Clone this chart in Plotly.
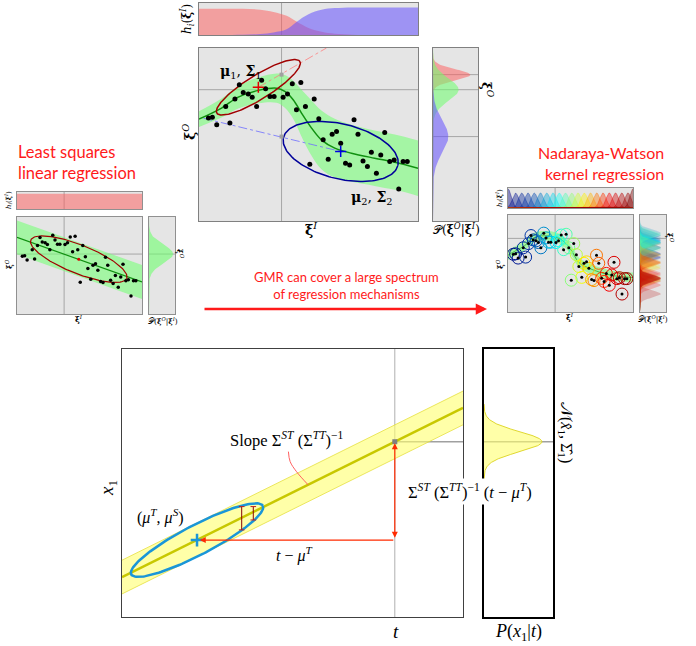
import numpy as np
import plotly.graph_objects as go
from plotly.colors import sample_colorscale

W, H = 696, 646

# ---------------- data ----------------
# shared dataset (same points in the three GMR panels)
pts_x = [4.3, 6.1, 8.1, 14.1, 12.2, 16.4, 18.4, 20.2, 22.5, 24.3, 26.3, 28.6, 30.4, 32.4, 34.3,
         38.4, 40.4, 42.6, 46.5, 52.6, 48.6, 44.5, 54.7, 56.7, 60.8, 62.8, 64.7, 70.8, 72.6, 59.0,
         50.6, 66.9, 68.8, 74.9, 76.9, 78.7, 81.0, 83.0, 84.8, 87.1, 89.1, 93.2, 95.1, 91.2]
pts_y = [59.5, 60.0, 55.6, 56.6, 66.2, 70.5, 78.8, 74.3, 73.4, 71.6, 66.2, 81.3, 76.4, 72.0, 72.0,
         71.6, 73.4, 79.3, 80.1, 70.5, 66.2, 64.3, 59.1, 46.9, 50.2, 51.7, 45.0, 58.5, 50.2, 35.7,
         32.8, 33.4, 32.4, 34.7, 31.5, 39.8, 27.6, 38.2, 51.2, 34.4, 35.3, 34.4, 34.4, 18.5]
x_query = 37.7

# GMR (two components)
mu1 = [27.1, 77.3]
mu2 = [64.7, 40.2]
sig1_axes = [[18.95, 14.95], [2.9, -5.9]]
sig2_axes = [[26.1, -8.1], [-2.95, -15.4]]
gmr_x = [0, 10.3, 17.9, 27.1, 35.4, 39.2, 43.0, 46.8, 51.4, 55.9, 62.0, 69.6, 80.2, 89.4, 100]
gmr_y = [58.9, 65.3, 71.6, 75.5, 76.8, 74.9, 70.1, 62.4, 53.7, 46.9, 42.1, 39.2, 36.3, 34.0, 30.5]
gmr_half = [4.5, 5.5, 6.5, 7.5, 8.5, 9.5, 11.0, 13.5, 16.0, 17.0, 17.0, 16.5, 16.0, 16.0, 16.0]
h_x = [0, 10, 20, 28, 34, 40, 44.5, 50, 56, 62, 70, 80, 100]
h1 = [0.82, 0.82, 0.82, 0.79, 0.72, 0.60, 0.42, 0.22, 0.10, 0.04, 0.01, 0.0, 0.0]
h2 = [0.0, 0.0, 0.01, 0.03, 0.08, 0.18, 0.41, 0.65, 0.79, 0.84, 0.86, 0.86, 0.86]
yq_out = 75.9
yq_1 = 84.6
yq_2 = 48.8
dens_params = [(84.5, 3.2, 0.83), (75.9, 6.5, 0.57), (48.8, 9.5, 0.34)]  # mean, sd, peak

# least squares
ls_x = [0, 100]
ls_y = [79.0, 33.0]
ls_half = 17.5
ls_mu = [49.4, 56.5]
ls_axes = [[38.4, -19.7], [-4.2, -13.7]]
ls_h = 0.9
ls_yq = 61.8
ls_dens = (61.8, 9.5, 0.93)

# Nadaraya-Watson
nw_x = [0, 1.3, 13.2, 21, 31.6, 42.1, 50, 56.6, 63.2, 73.7, 84.2, 97.4, 100]
nw_y = [58.5, 59.7, 68.3, 76.8, 78.5, 75.1, 64.8, 51.2, 46.1, 40.9, 37.5, 35.8, 35.6]
nw_half = 5.0
nw_centers = [0, 6, 11, 16, 21, 26, 31, 36, 41, 46, 51, 56, 61, 66, 71, 76, 81, 86, 91, 96, 100]
nw_heights = [0.95, 0.75, 0.75, 0.75, 0.75, 0.75, 0.75, 0.75, 0.75, 0.75, 0.75, 0.75, 0.75, 0.75,
              0.75, 0.75, 0.75, 0.75, 0.75, 0.75, 0.95]

# linear (bottom) example
bot_line_x = [0, 100]
bot_line_y = [14.9, 78.0]
bot_half = 6.3
bot_t = 80.0
bot_muT, bot_muS = 22.0, 28.7
bot_axes = [[19.3, 12.8], [2.0, -4.97]]
bot_cond = 65.4
bot_dens = (65.4, 3.8, 0.84)
err_x = [35.1, 38.5]
err_lo = [32.5, 36.2]
err_hi = [41.2, 41.2]
leader_x = [48.8, 49.3, 51.2, 54.6]
leader_y = [61.7, 58.0, 54.2, 49.3]

# ---------------- helpers ----------------
def ellipse(c, ax, n=160):
    t = np.linspace(0, 2 * np.pi, n)
    a, b = ax
    return (c[0] + a[0] * np.cos(t) + b[0] * np.sin(t),
            c[1] + a[1] * np.cos(t) + b[1] * np.sin(t))


def gauss(grid, mu, sd, amp):
    return amp * np.exp(-0.5 * ((grid - mu) / sd) ** 2)


def rgba(c, a):
    c = c.replace('rgb(', '').replace(')', '')
    r, g, b = [float(v) for v in c.split(',')]
    return f'rgba({int(r)},{int(g)},{int(b)},{a})'


def jet(v):
    return sample_colorscale('Jet', [min(max(v, 0), 1)])[0]


GRAY_BG = '#e5e5e5'
GRID = '#a6a6a6'

# panels: x0,x1,y0,y1 (pixels), xrange, yrange, bg, linecolor, linewidth
panels = [
    (199, 418, 3, 35, [0, 100], [0, 1], GRAY_BG, '#808080', 1),      # 1 top h
    (199, 418, 48, 221, [0, 100], [0, 100], GRAY_BG, '#808080', 1),  # 2 top main
    (433, 478, 48, 221, [0, 1], [0, 100], GRAY_BG, '#808080', 1),    # 3 top dens
    (17, 142, 192, 209, [0, 100], [0, 1], GRAY_BG, '#909090', 1),    # 4 left h
    (17, 142, 217, 314, [0, 100], [0, 100], GRAY_BG, '#909090', 1),  # 5 left main
    (149, 175, 217, 314, [0, 1], [0, 100], GRAY_BG, '#909090', 1),   # 6 left dens
    (508, 633, 188, 208, [0, 100], [0, 1], GRAY_BG, '#909090', 1),   # 7 right h
    (508, 633, 215, 312, [0, 100], [0, 100], GRAY_BG, '#909090', 1), # 8 right main
    (640, 666, 215, 312, [0, 1], [0, 100], GRAY_BG, '#909090', 1),   # 9 right dens
    (122, 463, 349, 617, [0, 100], [0, 100], 'white', '#404040', 1), # 10 bottom main
    (484, 553, 349, 617, [0, 1], [0, 100], 'white', '#000000', 1.6), # 11 bottom dens
]

fig = go.Figure()
layout_axes = {}
shapes = []
for i, (x0, x1, y0, y1, xr, yr, bg, lc, lw) in enumerate(panels, start=1):
    s = '' if i == 1 else str(i)
    common = dict(showline=True, mirror=True, linecolor=lc, linewidth=lw, showgrid=False,
                  zeroline=False, showticklabels=False, ticks='', fixedrange=True)
    layout_axes['xaxis' + s] = dict(domain=[x0 / W, x1 / W], range=xr, anchor='y' + s, **common)
    layout_axes['yaxis' + s] = dict(domain=[1 - y1 / H, 1 - y0 / H], range=yr, anchor='x' + s, **common)
    shapes.append(dict(type='rect', xref=f'x{s} domain', yref=f'y{s} domain', x0=0, x1=1, y0=0, y1=1,
                       fillcolor=bg, line_width=0, layer='below'))


def add(tr, i):
    s = '' if i == 1 else str(i)
    tr.update(xaxis='x' + s, yaxis='y' + s, showlegend=False, hoverinfo='skip')
    fig.add_trace(tr)


def line(x, y, i, color=GRID, width=1, dash=None, shape='linear'):
    add(go.Scatter(x=x, y=y, mode='lines', line=dict(color=color, width=width, dash=dash, shape=shape)), i)


def band(x, y, half, i, fillc, shape='spline'):
    x = np.asarray(x, float); y = np.asarray(y, float); half = np.asarray(half, float) * np.ones_like(y)
    add(go.Scatter(x=x, y=y - half, mode='lines', line=dict(width=0, shape=shape)), i)
    add(go.Scatter(x=x, y=y + half, mode='lines', line=dict(width=0, shape=shape), fill='tonexty',
                   fillcolor=fillc), i)


GREEN_FILL = 'rgba(120,255,120,0.6)'
DGREEN = '#109010'
ygrid = np.linspace(0, 100, 400)
xgrid = np.linspace(0, 100, 400)

# ===== top centre =====
line([x_query, x_query], [0, 1], 1)
add(go.Scatter(x=h_x, y=h1, mode='lines', line=dict(width=0, shape='spline'), fill='tozeroy',
               fillcolor='rgba(255,90,90,0.5)'), 1)
add(go.Scatter(x=h_x, y=h2, mode='lines', line=dict(width=0, shape='spline'), fill='tozeroy',
               fillcolor='rgba(100,80,255,0.55)'), 1)
line([x_query, x_query], [0, 100], 2)
line([0, 100], [yq_out, yq_out], 2)
band(gmr_x, gmr_y, gmr_half, 2, GREEN_FILL)
line([mu1[0], 58.2], [mu1[1], 100], 2, color='rgba(255,120,120,0.75)', dash='dashdot')
line([2, mu2[0]], [59.4, mu2[1]], 2, color='rgba(110,110,255,0.8)', dash='dashdot')
line(gmr_x, gmr_y, 2, color=DGREEN, width=1.5, shape='spline')
ex, ey = ellipse(mu1, sig1_axes)
line(ex, ey, 2, color='#a00000', width=1.5)
ex, ey = ellipse(mu2, sig2_axes)
line(ex, ey, 2, color='#00009a', width=1.5)
add(go.Scatter(x=[x_query, x_query], y=[yq_1, yq_2], mode='markers',
               marker=dict(symbol='square', size=4, color='#a0a0a0')), 2)
add(go.Scatter(x=pts_x, y=pts_y, mode='markers', marker=dict(size=5, color='black')), 2)
add(go.Scatter(x=[mu1[0]], y=[mu1[1]], mode='markers',
               marker=dict(symbol='cross-thin', size=8, line=dict(color='#e00000', width=1.5))), 2)
add(go.Scatter(x=[mu2[0]], y=[mu2[1]], mode='markers',
               marker=dict(symbol='cross-thin', size=8, line=dict(color='#0000e0', width=1.5))), 2)
for yy in (yq_1, yq_out, yq_2):
    line([0, 1], [yy, yy], 3)
for (m, sd, a), fc in zip(dens_params, ['rgba(255,90,90,0.5)', 'rgba(110,255,110,0.55)',
                                         'rgba(100,80,255,0.55)']):
    add(go.Scatter(x=gauss(ygrid, m, sd, a), y=ygrid, mode='lines', line=dict(width=0),
                   fill='tozerox', fillcolor=fc), 3)

# ===== left (least squares) =====
line([x_query, x_query], [0, 1], 4)
add(go.Scatter(x=[0, 100], y=[ls_h, ls_h], mode='lines', line=dict(width=0), fill='tozeroy',
               fillcolor='rgba(255,90,90,0.5)'), 4)
line([x_query, x_query], [0, 100], 5)
line([0, 100], [ls_yq, ls_yq], 5)
band(ls_x, ls_y, ls_half, 5, GREEN_FILL, shape='linear')
line(ls_x, ls_y, 5, color=DGREEN, width=1.2)
ex, ey = ellipse(ls_mu, ls_axes)
line(ex, ey, 5, color='#a00000', width=1.2)
add(go.Scatter(x=pts_x, y=pts_y, mode='markers', marker=dict(size=3.5, color='black')), 5)
add(go.Scatter(x=[ls_mu[0]], y=[ls_mu[1]], mode='markers', marker=dict(size=3, color='#e00000')), 5)
line([0, 1], [ls_yq, ls_yq], 6)
add(go.Scatter(x=gauss(ygrid, *ls_dens), y=ygrid, mode='lines', line=dict(width=0),
               fill='tozerox', fillcolor='rgba(110,255,110,0.6)'), 6)

# ===== right (Nadaraya-Watson) =====
line([x_query, x_query], [0, 1], 7)
for c, hgt in zip(nw_centers, nw_heights):
    col = jet(c / 100)
    add(go.Scatter(x=xgrid, y=gauss(xgrid, c, 2.6, hgt), mode='lines',
                   line=dict(width=0.6, color=rgba(col, 0.6)), fill='tozeroy',
                   fillcolor=rgba(col, 0.4)), 7)
line([x_query, x_query], [0, 100], 8)
line([0, 100], [yq_out, yq_out], 8)
band(nw_x, nw_y, nw_half, 8, GREEN_FILL)
line(nw_x, nw_y, 8, color='rgba(16,144,16,0.6)', width=1, shape='spline')
circ_cols = [jet(v / 100) for v in pts_x]
add(go.Scatter(x=pts_x, y=pts_y, mode='markers',
               marker=dict(symbol='circle-open', size=12, color=circ_cols, line=dict(width=1))), 8)
add(go.Scatter(x=pts_x, y=pts_y, mode='markers', marker=dict(size=3, color='black')), 8)
line([0, 1], [yq_out, yq_out], 9)
for px_, py_ in sorted(zip(pts_x, pts_y)):
    col = jet(px_ / 100)
    add(go.Scatter(x=gauss(ygrid, py_, 3.6, 0.8), y=ygrid, mode='lines', line=dict(width=0),
                   fill='tozerox', fillcolor=rgba(col, 0.22)), 9)

# ===== bottom (linear case) =====
line([bot_t, bot_t], [0, 100], 10, color='#b0b0b0')
line([bot_t, 100], [bot_cond, bot_cond], 10, color='#a0a0a0', width=1.5)
band(bot_line_x, bot_line_y, bot_half, 10, 'rgba(255,255,110,0.6)', shape='linear')
ly = np.asarray(bot_line_y)
line(bot_line_x, list(ly + bot_half), 10, color='#e6e040', width=0.8)
line(bot_line_x, list(ly - bot_half), 10, color='#e6e040', width=0.8)
line(bot_line_x, bot_line_y, 10, color='#c8c800', width=2.5)
ex, ey = ellipse([bot_muT, bot_muS], bot_axes)
line(ex, ey, 10, color='#1a96d8', width=2.5)
for xe, lo, hi in zip(err_x, err_lo, err_hi):
    add(go.Scatter(x=[xe, xe], y=[lo, hi], mode='lines+markers', line=dict(color='#8b0000', width=1),
                   marker=dict(symbol='line-ew', size=4, line=dict(color='#c02020', width=1))), 10)
line(leader_x, leader_y, 10, color='#ff6060', width=1, shape='spline')
add(go.Scatter(x=[bot_muT], y=[bot_muS], mode='markers',
               marker=dict(symbol='cross-thin', size=9, line=dict(color='#1a96d8', width=2.5))), 10)
add(go.Scatter(x=[bot_t], y=[bot_cond], mode='markers',
               marker=dict(symbol='square', size=5, color='#808080')), 10)
line([0, 1], [bot_cond, bot_cond], 11, color='#a0a0a0', width=1.5)
m, sd, a = bot_dens
yg = np.linspace(m - 3.7 * sd, m + 3.7 * sd, 200)
add(go.Scatter(x=gauss(yg, m, sd, a), y=yg, mode='lines', line=dict(width=1, color='#e0d830'),
               fill='tozerox', fillcolor='rgba(255,255,110,0.6)'), 11)

# ---------------- annotations ----------------
SERIF = 'DejaVu Serif'
SANS = 'Lato'
BS = 'Liberation Serif'
ann = []


def txt(text, px, py, size, angle=0, family=SERIF, color='black', xanchor='center', align='center', **kw):
    ann.append(dict(text=text, x=px / W, y=1 - py / H, xref='paper', yref='paper', showarrow=False,
                    font=dict(size=size, family=family, color=color), textangle=angle,
                    xanchor=xanchor, yanchor='middle', align=align, **kw))


XI_I = '<b>ξ</b><sup><i>I</i></sup>'
XI_O = '<b>ξ</b><sup><i>O</i></sup>'
HI = '<i>h</i><sub><i>i</i></sub>(' + XI_I + ')'
PCOND = '𝒫(' + XI_O + '|' + XI_I + ')'

# top centre
txt(HI, 187, 19, 12, angle=-90)
txt(XI_O, 189, 132, 14, angle=-90)
txt(XI_I, 311, 229, 14)
txt(PCOND, 456, 229, 12)
txt(XI_O, 487, 90, 13, angle=90)
txt('<b>μ</b><sub>1</sub>, <b>Σ</b><sub>1</sub>', 241, 72, 14)
txt('<b>μ</b><sub>2</sub>, <b>Σ</b><sub>2</sub>', 372, 198, 14)
# left small
txt(HI, 8, 200, 7, angle=-90)
txt(XI_O, 9, 264, 8, angle=-90)
txt(XI_I, 79, 319, 8)
txt(PCOND, 163, 321, 7.5)
txt(XI_O, 180, 254, 8, angle=90)
# right small
txt(HI, 499, 198, 7, angle=-90)
txt(XI_O, 500, 264, 8, angle=-90)
txt(XI_I, 570, 317, 8)
txt(PCOND, 653, 319, 7.5)
txt(XI_O, 670, 238, 8, angle=90)
# red captions
txt('Least squares<br>linear regression', 16, 162, 16.5, family=SANS, color='#ff1a1a', xanchor='left', align='left')
txt('Nadaraya-Watson<br>kernel regression', 666, 163, 16, family=SANS, color='#ff1a1a', xanchor='right', align='right')
txt('GMR can cover a large spectrum<br>of regression mechanisms', 346, 285, 13, family=SANS, color='#ff1a1a')
ann.append(dict(x=487 / W, y=1 - 309 / H, xref='paper', yref='paper', ax=-284, ay=0, text='',
                showarrow=True, arrowhead=2, arrowsize=0.9, arrowwidth=2.5, arrowcolor='#ff1a1a'))

# bottom
txt('<i>x</i><sub>1</sub>', 108, 488, 19, angle=-90, family=BS)
txt('<i>t</i>', 396, 631, 19, family=BS)
txt('<i>P</i>(<i>x</i><sub>1</sub>|<i>t</i>)', 518, 632, 18, family=BS)
txt('𝒩(<i>x̂</i><sub>1</sub>, Σ̂<sub>1</sub>)', 565, 432, 16, angle=90, family=BS)
txt('Σ<sup><i>ST</i></sup> (Σ<sup><i>TT</i></sup>)<sup>−1</sup> (<i>t</i> − <i>μ</i><sup><i>T</i></sup>)',
    470, 491, 16.5, family=BS, bgcolor='white', borderpad=2)


def dtxt(text, x, y, size, **kw):
    ann.append(dict(text=text, x=x, y=y, xref='x10', yref='y10', showarrow=False,
                    font=dict(size=size, family=BS, color='black'), **kw))


dtxt('Slope Σ<sup><i>ST</i></sup> (Σ<sup><i>TT</i></sup>)<sup>−1</sup>', 48.5, 66.3, 16.5)
dtxt('(<i>μ</i><sup><i>T</i></sup>, <i>μ</i><sup><i>S</i></sup>)', 11.4, 37.5, 16)
dtxt('<i>t</i> − <i>μ</i><sup><i>T</i></sup>', 50.7, 23.5, 16)
ann.append(dict(x=bot_muT + 0.8, y=bot_muS, ax=bot_t, ay=bot_muS, xref='x10', yref='y10', axref='x10',
                ayref='y10', text='', showarrow=True, arrowhead=2, arrowsize=1, arrowwidth=1.2,
                arrowcolor='#ff2a00'))
ann.append(dict(x=bot_t, y=bot_cond - 0.6, ax=bot_t, ay=bot_muS + 0.3, xref='x10', yref='y10', axref='x10',
                ayref='y10', text='', showarrow=True, arrowhead=2, startarrowhead=2, arrowside='end+start',
                arrowsize=1, arrowwidth=1.2, arrowcolor='#ff2a00'))

fig.update_layout(width=W, height=H, margin=dict(l=0, r=0, t=0, b=0), paper_bgcolor='white',
                  plot_bgcolor='rgba(0,0,0,0)', shapes=shapes, annotations=ann, **layout_axes)
fig.write_html('out.html')
